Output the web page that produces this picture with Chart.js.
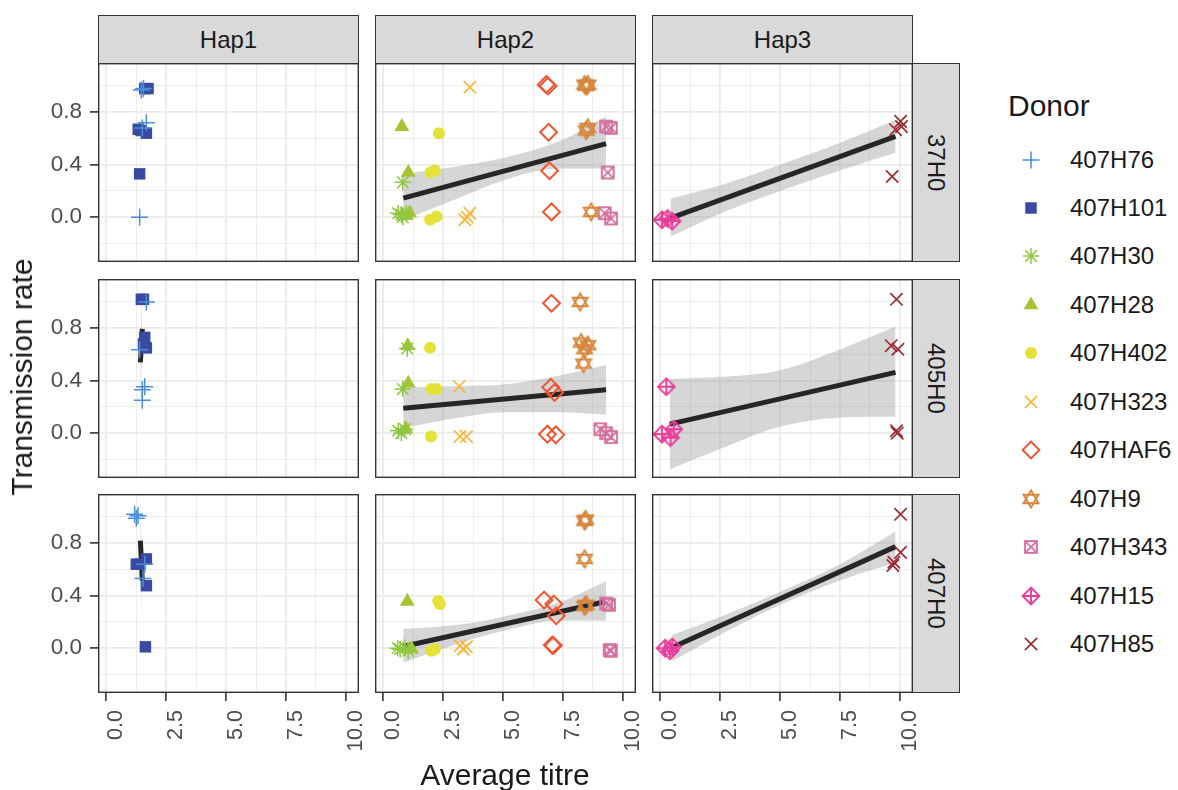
<!DOCTYPE html>
<html>
<head>
<meta charset="utf-8">
<script src="https://cdn.jsdelivr.net/npm/chart.js@4.4.1/dist/chart.umd.min.js"></script>
<style>
  html, body { margin: 0; padding: 0; background: #ffffff; }
  body { width: 1178px; height: 790px; position: relative; overflow: hidden;
         font-family: 'Liberation Sans', Arial, Helvetica, sans-serif; }
  .abs { position: absolute; }
  .strip { position: absolute; box-sizing: border-box; background: #d9d9d9;
           border: 1.4px solid #333333; color: #1a1a1a; font-size: 24px;
           display: flex; align-items: center; justify-content: center; }
  .strip.side span { writing-mode: vertical-rl; }
  .title { position: absolute; color: #1a1a1a; font-size: 30px; line-height: 30px; white-space: nowrap; }
  .key-label { position: absolute; color: #1a1a1a; font-size: 24px; line-height: 24px; white-space: nowrap; }
</style>
</head>
<body>
<script>
// ---- facets, donors, ticks ----
const strains = ['37H0', '405H0', '407H0'];          // facet rows
const haplotypes = ['Hap1', 'Hap2', 'Hap3'];         // facet columns
const donors = ['407H76', '407H101', '407H30', '407H28', '407H402', '407H323',
                '407HAF6', '407H9', '407H343', '407H15', '407H85'];
const xTickValues = [0, 2.5, 5, 7.5, 10];
const xTickLabels = ['0.0', '2.5', '5.0', '7.5', '10.0'];
const xMinorValues = [1.25, 3.75, 6.25, 8.75];
const yTickValues = [0, 0.4, 0.8];
const yTickLabels = ['0.0', '0.4', '0.8'];
const yMinorValues = [-0.2, 0.2, 0.6, 1.0];

// ---- observations per donor: [strain, haplotype, average titre, transmission rate] ----
const obs407H76 = [
  ['37H0','Hap1',1.46,0.97], ['37H0','Hap1',1.55,0.98], ['37H0','Hap1',1.67,0.72], ['37H0','Hap1',1.50,0.68], ['37H0','Hap1',1.39,0.00],
  ['405H0','Hap1',1.67,1.00], ['405H0','Hap1',1.39,0.635], ['405H0','Hap1',1.60,0.354], ['405H0','Hap1',1.50,0.33], ['405H0','Hap1',1.50,0.25],
  ['407H0','Hap1',1.18,1.02], ['407H0','Hap1',1.32,1.01], ['407H0','Hap1',1.25,0.99], ['407H0','Hap1',1.60,0.64], ['407H0','Hap1',1.53,0.53]
];
const obs407H101 = [
  ['37H0','Hap1',1.74,0.98], ['37H0','Hap1',1.60,0.98], ['37H0','Hap1',1.33,0.67], ['37H0','Hap1',1.45,0.66], ['37H0','Hap1',1.67,0.64], ['37H0','Hap1',1.39,0.33],
  ['405H0','Hap1',1.46,1.02], ['405H0','Hap1',1.55,1.02], ['405H0','Hap1',1.60,0.73], ['405H0','Hap1',1.67,0.65], ['405H0','Hap1',1.55,0.68],
  ['407H0','Hap1',1.25,0.64], ['407H0','Hap1',1.40,0.64], ['407H0','Hap1',1.67,0.68], ['407H0','Hap1',1.67,0.476], ['407H0','Hap1',1.63,0.01]
];
const obs407H30 = [
  ['37H0','Hap2',0.81,0.265], ['37H0','Hap2',0.62,0.03], ['37H0','Hap2',0.81,0.00], ['37H0','Hap2',0.95,0.03], ['37H0','Hap2',0.75,0.02],
  ['405H0','Hap2',1.00,0.645], ['405H0','Hap2',0.81,0.336], ['405H0','Hap2',0.62,0.018], ['405H0','Hap2',0.90,0.03], ['405H0','Hap2',0.75,0.00],
  ['407H0','Hap2',0.70,-0.008], ['407H0','Hap2',0.90,0.005], ['407H0','Hap2',1.04,-0.02], ['407H0','Hap2',0.60,0.00]
];
const obs407H28 = [
  ['37H0','Hap2',0.77,0.69], ['37H0','Hap2',1.04,0.34], ['37H0','Hap2',1.09,0.03], ['37H0','Hap2',0.95,0.01],
  ['405H0','Hap2',1.02,0.667], ['405H0','Hap2',1.04,0.38], ['405H0','Hap2',0.95,0.03],
  ['407H0','Hap2',1.00,0.356], ['407H0','Hap2',1.18,-0.008]
];
const obs407H402 = [
  ['37H0','Hap2',2.32,0.64], ['37H0','Hap2',1.97,0.34], ['37H0','Hap2',2.15,0.356], ['37H0','Hap2',1.95,-0.02], ['37H0','Hap2',2.22,0.005],
  ['405H0','Hap2',1.95,0.65], ['405H0','Hap2',2.01,0.336], ['405H0','Hap2',2.22,0.336], ['405H0','Hap2',1.99,-0.026],
  ['407H0','Hap2',2.29,0.36], ['407H0','Hap2',2.36,0.336], ['407H0','Hap2',2.01,-0.02], ['407H0','Hap2',2.15,-0.008]
];
const obs407H323 = [
  ['37H0','Hap2',3.61,0.99], ['37H0','Hap2',3.40,-0.02], ['37H0','Hap2',3.61,0.03], ['37H0','Hap2',3.50,0.00],
  ['405H0','Hap2',3.17,0.356], ['405H0','Hap2',3.20,-0.026], ['405H0','Hap2',3.47,-0.026],
  ['407H0','Hap2',3.20,0.018], ['407H0','Hap2',3.33,-0.008], ['407H0','Hap2',3.47,0.01]
];
const obs407HAF6 = [
  ['37H0','Hap2',6.80,1.01], ['37H0','Hap2',6.88,1.00], ['37H0','Hap2',6.90,0.647], ['37H0','Hap2',6.94,0.354], ['37H0','Hap2',7.02,0.04],
  ['405H0','Hap2',7.02,0.99], ['405H0','Hap2',6.99,0.35], ['405H0','Hap2',7.15,0.31], ['405H0','Hap2',6.85,-0.008], ['405H0','Hap2',7.20,-0.013],
  ['407H0','Hap2',6.71,0.367], ['407H0','Hap2',7.12,0.336], ['407H0','Hap2',7.22,0.247], ['407H0','Hap2',7.05,0.023], ['407H0','Hap2',7.10,0.02]
];
const obs407H9 = [
  ['37H0','Hap2',8.40,1.01], ['37H0','Hap2',8.55,1.01], ['37H0','Hap2',8.47,1.00], ['37H0','Hap2',8.54,0.68], ['37H0','Hap2',8.47,0.66], ['37H0','Hap2',8.68,0.04],
  ['405H0','Hap2',8.22,1.00], ['405H0','Hap2',8.26,0.69], ['405H0','Hap2',8.54,0.67], ['405H0','Hap2',8.40,0.64], ['405H0','Hap2',8.36,0.53],
  ['407H0','Hap2',8.45,0.98], ['407H0','Hap2',8.40,0.97], ['407H0','Hap2',8.40,0.68], ['407H0','Hap2',8.47,0.33], ['407H0','Hap2',8.40,0.32]
];
const obs407H343 = [
  ['37H0','Hap2',9.30,0.69], ['37H0','Hap2',9.50,0.68], ['37H0','Hap2',9.37,0.34], ['37H0','Hap2',9.24,0.03], ['37H0','Hap2',9.51,-0.01],
  ['405H0','Hap2',9.06,0.03], ['405H0','Hap2',9.30,0.00], ['405H0','Hap2',9.51,-0.03],
  ['407H0','Hap2',9.30,0.34], ['407H0','Hap2',9.42,0.33], ['407H0','Hap2',9.45,-0.015], ['407H0','Hap2',9.50,-0.02]
];
const obs407H15 = [
  ['37H0','Hap3',0.07,-0.02], ['37H0','Hap3',0.30,-0.01], ['37H0','Hap3',0.49,-0.03],
  ['405H0','Hap3',0.25,0.354], ['405H0','Hap3',0.07,-0.008], ['405H0','Hap3',0.42,-0.034], ['405H0','Hap3',0.56,0.03],
  ['407H0','Hap3',0.20,0.00], ['407H0','Hap3',0.40,-0.02], ['407H0','Hap3',0.50,0.01]
];
const obs407H85 = [
  ['37H0','Hap3',10.03,0.73], ['37H0','Hap3',9.82,0.667], ['37H0','Hap3',10.07,0.69], ['37H0','Hap3',9.68,0.31],
  ['405H0','Hap3',9.86,1.02], ['405H0','Hap3',9.64,0.667], ['405H0','Hap3',9.92,0.64], ['405H0','Hap3',9.86,0.018], ['405H0','Hap3',9.89,0.00],
  ['407H0','Hap3',10.03,1.02], ['407H0','Hap3',10.03,0.73], ['407H0','Hap3',9.75,0.655], ['407H0','Hap3',9.71,0.63]
];
const donorObs = [obs407H76, obs407H101, obs407H30, obs407H28, obs407H402, obs407H323,
                  obs407HAF6, obs407H9, obs407H343, obs407H15, obs407H85];

// ---- linear fit per facet: [strain, haplotype, x start, y start, x end, y end] ----
const fitLines = [
  ['37H0','Hap1',1.44,0.62,1.46,0.71],
  ['37H0','Hap2',0.83,0.145,9.30,0.56],
  ['37H0','Hap3',0.42,-0.008,9.82,0.616],
  ['405H0','Hap1',1.42,0.54,1.50,0.795],
  ['405H0','Hap2',0.83,0.19,9.30,0.33],
  ['405H0','Hap3',0.39,0.069,9.82,0.463],
  ['407H0','Hap1',1.42,0.82,1.50,0.515],
  ['407H0','Hap2',0.83,0.012,9.30,0.356],
  ['407H0','Hap3',0.49,0.005,9.82,0.774]
];

// ---- confidence band per facet: [strain, haplotype, titre, lower, upper] ----
const fitBands = [
  ['37H0','Hap1',1.43,0.26,0.66], ['37H0','Hap1',1.47,0.70,1.09],
  ['37H0','Hap2',0.83,-0.02,0.33], ['37H0','Hap2',3.2,0.15,0.39], ['37H0','Hap2',5.0,0.28,0.45], ['37H0','Hap2',7.36,0.37,0.58], ['37H0','Hap2',9.3,0.37,0.77],
  ['37H0','Hap3',0.42,-0.15,0.14], ['37H0','Hap3',2.8,0.05,0.26], ['37H0','Hap3',5.0,0.20,0.40], ['37H0','Hap3',7.4,0.35,0.56], ['37H0','Hap3',9.82,0.49,0.74],
  ['405H0','Hap1',1.42,0.19,0.62], ['405H0','Hap1',1.50,0.70,1.09],
  ['405H0','Hap2',0.83,0.04,0.35], ['405H0','Hap2',3.2,0.12,0.36], ['405H0','Hap2',5.0,0.16,0.37], ['405H0','Hap2',7.36,0.16,0.44], ['405H0','Hap2',9.3,0.14,0.52],
  ['405H0','Hap3',0.39,-0.275,0.413], ['405H0','Hap3',2.65,-0.11,0.43], ['405H0','Hap3',5.01,0.05,0.48], ['405H0','Hap3',7.52,0.12,0.64], ['405H0','Hap3',9.82,0.125,0.813],
  ['407H0','Hap1',1.42,0.72,1.13], ['407H0','Hap1',1.50,0.21,0.60],
  ['407H0','Hap2',0.83,-0.11,0.145], ['407H0','Hap2',3.2,0.04,0.18], ['407H0','Hap2',5.0,0.13,0.24], ['407H0','Hap2',7.36,0.21,0.35], ['407H0','Hap2',9.3,0.21,0.51],
  ['407H0','Hap3',0.49,-0.10,0.10], ['407H0','Hap3',2.8,0.13,0.26], ['407H0','Hap3',5.0,0.33,0.43], ['407H0','Hap3',7.4,0.51,0.63], ['407H0','Hap3',9.82,0.65,0.89]
];

// ---- layout and styling ----
const FONT = "'Liberation Sans', Arial, Helvetica, sans-serif";
const PANEL_LEFT = [98, 375, 652];
const PANEL_TOP = [63, 279, 494];
const PANEL_W = 261, PANEL_H = 199;
const Y_AXIS_W = 98, X_AXIS_H = 72, LABEL_OVERHANG = 16;
const X_RANGE = [-0.35, 10.55];
const Y_RANGE = [-0.342, 1.175];
const donorColours = ['#4a8fd8', '#3a4aa3', '#8fc742', '#a6c535', '#e4e237', '#fbb535',
                      '#f0552f', '#d6863c', '#d4719e', '#ea3d9b', '#9a2b30'];

// Open shapes with no built-in Chart.js point style
function markerCanvas(colour, paint) {
  const c = document.createElement('canvas');
  c.width = 22; c.height = 22;
  const g = c.getContext('2d');
  g.strokeStyle = colour; g.lineWidth = 1.9; g.lineJoin = 'miter';
  g.translate(11, 11);
  paint(g);
  return c;
}
const paintHexagram = g => {
  const r = 8.6;
  [1, -1].forEach(s => {
    g.beginPath();
    g.moveTo(0, -s * r);
    g.lineTo(r * 0.866, s * r * 0.5);
    g.lineTo(-r * 0.866, s * r * 0.5);
    g.closePath(); g.stroke();
  });
};
const paintBoxCross = g => {
  const h = 5.9;
  g.strokeRect(-h, -h, 2 * h, 2 * h);
  g.beginPath(); g.moveTo(-h, -h); g.lineTo(h, h); g.moveTo(h, -h); g.lineTo(-h, h); g.stroke();
};
const paintDiamondPlus = g => {
  const r = 8.4;
  g.beginPath(); g.moveTo(0, -r); g.lineTo(r, 0); g.lineTo(0, r); g.lineTo(-r, 0); g.closePath(); g.stroke();
  g.beginPath(); g.moveTo(0, -r); g.lineTo(0, r); g.moveTo(-r, 0); g.lineTo(r, 0); g.stroke();
};

const donorMarkers = [
  { style: 'cross',    radius: 8.5, width: 1.5, filled: false },
  { style: 'rect',     radius: 8.1, width: 0,   filled: true },
  { style: 'star',     radius: 8.2, width: 1.5, filled: false },
  { style: 'triangle', radius: 8.6, width: 0,   filled: true },
  { style: 'circle',   radius: 6.0, width: 0,   filled: true },
  { style: 'crossRot', radius: 8.7, width: 1.6, filled: false },
  { style: 'rectRot',  radius: 8.4, width: 2.0, filled: false },
  { style: markerCanvas(donorColours[7], paintHexagram),    radius: 8, width: 0, filled: false },
  { style: markerCanvas(donorColours[8], paintBoxCross),    radius: 8, width: 0, filled: false },
  { style: markerCanvas(donorColours[9], paintDiamondPlus), radius: 8, width: 0, filled: false },
  { style: 'crossRot', radius: 8.7, width: 1.7, filled: false }
];

const near = (list, v) => list.findIndex(t => Math.abs(t - v) < 1e-6);

// Panel frame drawn above everything, like a ggplot panel border
const panelBorder = {
  id: 'panelBorder',
  afterDraw(chart) {
    const { ctx, chartArea: a } = chart;
    ctx.save();
    ctx.strokeStyle = '#333333';
    ctx.lineWidth = 1.4;
    ctx.strokeRect(a.left + 0.7, a.top + 0.7, a.right - a.left - 1.4, a.bottom - a.top - 1.4);
    ctx.restore();
  }
};

Chart.defaults.font.family = FONT;

function addDiv(cls, text, css) {
  const d = document.createElement('div');
  d.className = cls;
  if (text !== null) d.innerHTML = text;
  Object.assign(d.style, css);
  document.body.appendChild(d);
  return d;
}

// ---- facet strips ----
haplotypes.forEach((h, c) => addDiv('strip', h, {
  left: PANEL_LEFT[c] + 'px', top: '15px', width: PANEL_W + 'px', height: '49px'
}));
strains.forEach((s, r) => addDiv('strip side', '<span>' + s + '</span>', {
  left: (PANEL_LEFT[2] + PANEL_W - 1) + 'px', top: PANEL_TOP[r] + 'px', width: '48px', height: PANEL_H + 'px'
}));

// ---- panels ----
strains.forEach((strain, r) => haplotypes.forEach((hap, c) => {
  const yW = c === 0 ? Y_AXIS_W : 0;
  const xH = r === 2 ? X_AXIS_H : 0;
  const padR = r === 2 ? LABEL_OVERHANG : 0;   // room for the rotated "10.0" label
  const box = addDiv('abs', null, {
    left: (PANEL_LEFT[c] - yW) + 'px', top: PANEL_TOP[r] + 'px',
    width: (PANEL_W + yW + padR) + 'px', height: (PANEL_H + xH) + 'px'
  });
  const canvas = document.createElement('canvas');
  box.appendChild(canvas);

  const datasets = [];
  donors.forEach((name, k) => {
    const pts = donorObs[k].filter(o => o[0] === strain && o[1] === hap).map(o => ({ x: o[2], y: o[3] }));
    if (!pts.length) return;
    const m = donorMarkers[k];
    datasets.push({
      type: 'scatter', label: name, data: pts, order: 0,
      pointStyle: m.style, pointRadius: m.radius, pointHoverRadius: m.radius,
      pointBorderWidth: m.width, pointHoverBorderWidth: m.width,
      borderColor: donorColours[k], backgroundColor: m.filled ? donorColours[k] : 'rgba(0,0,0,0)'
    });
  });

  const band = fitBands.filter(b => b[0] === strain && b[1] === hap);
  datasets.push({
    type: 'line', label: 'band upper', data: band.map(b => ({ x: b[2], y: b[4] })),
    fill: '+1', backgroundColor: 'rgba(153,153,153,0.4)', borderWidth: 0, pointRadius: 0,
    cubicInterpolationMode: 'monotone', order: 2
  });
  datasets.push({
    type: 'line', label: 'band lower', data: band.map(b => ({ x: b[2], y: b[3] })),
    fill: false, borderWidth: 0, pointRadius: 0, cubicInterpolationMode: 'monotone', order: 2
  });
  const fit = fitLines.find(f => f[0] === strain && f[1] === hap);
  datasets.push({
    type: 'line', label: 'fit', data: [{ x: fit[2], y: fit[3] }, { x: fit[4], y: fit[5] }],
    borderColor: '#262626', borderWidth: 5, borderCapStyle: 'butt', pointRadius: 0, fill: false, order: 1
  });

  new Chart(canvas, {
    type: 'scatter',
    data: { datasets },
    plugins: [panelBorder],
    options: {
      responsive: true, maintainAspectRatio: false, animation: false, events: [],
      layout: { padding: { left: 0, top: 0, bottom: 0, right: padR }, autoPadding: false },
      plugins: { legend: { display: false }, tooltip: { enabled: false } },
      scales: {
        x: {
          type: 'linear', position: 'bottom', min: X_RANGE[0], max: X_RANGE[1],
          afterBuildTicks: s => { s.ticks = xTickValues.concat(xMinorValues).sort((a, b) => a - b).map(v => ({ value: v })); },
          afterFit: s => { s.height = xH; s.paddingLeft = 0; s.paddingRight = 0; s.paddingTop = 0; s.paddingBottom = 0; },
          border: { display: false },
          grid: {
            color: '#ebebeb',
            lineWidth: ctx => near(xTickValues, ctx.tick.value) >= 0 ? 1.8 : 0.9,
            drawTicks: r === 2, tickLength: 8, tickWidth: 1.6,
            tickColor: ctx => near(xTickValues, ctx.tick.value) >= 0 ? '#333333' : 'rgba(0,0,0,0)'
          },
          ticks: {
            display: r === 2, autoSkip: false, minRotation: 90, maxRotation: 90,
            padding: 9, labelOffset: 10, color: '#4d4d4d', font: { size: 21.5 },
            callback: v => { const i = near(xTickValues, v); return i >= 0 ? xTickLabels[i] : ''; }
          }
        },
        y: {
          type: 'linear', position: 'left', min: Y_RANGE[0], max: Y_RANGE[1],
          afterBuildTicks: s => { s.ticks = yTickValues.concat(yMinorValues).sort((a, b) => a - b).map(v => ({ value: v })); },
          afterFit: s => { s.width = yW; s.paddingLeft = 0; s.paddingRight = 0; s.paddingTop = 0; s.paddingBottom = 0; },
          border: { display: false },
          grid: {
            color: '#ebebeb',
            lineWidth: ctx => near(yTickValues, ctx.tick.value) >= 0 ? 1.8 : 0.9,
            drawTicks: c === 0, tickLength: 8, tickWidth: 1.6,
            tickColor: ctx => near(yTickValues, ctx.tick.value) >= 0 ? '#333333' : 'rgba(0,0,0,0)'
          },
          ticks: {
            display: c === 0, autoSkip: false, padding: 8, color: '#4d4d4d', font: { size: 22.5 },
            callback: v => { const i = near(yTickValues, v); return i >= 0 ? yTickLabels[i] : ''; }
          }
        }
      }
    }
  });
}));

// ---- axis titles ----
addDiv('title', 'Average titre', { left: '505px', top: '760px', transform: 'translateX(-50%)' });
addDiv('title', 'Transmission rate', {
  left: '22px', top: '377px', transform: 'translate(-50%, -50%) rotate(-90deg)'
});

// ---- legend ----
addDiv('title', 'Donor', { left: '1008px', top: '91px' });
function drawKeySymbol(ctx, k, x, y) {
  const m = donorMarkers[k];
  ctx.fillStyle = m.filled ? donorColours[k] : 'rgba(0,0,0,0)';
  ctx.strokeStyle = donorColours[k];
  ctx.lineWidth = m.width;
  const opts = { pointStyle: m.style, radius: m.radius, rotation: 0, borderWidth: m.width };
  if (Chart.helpers && Chart.helpers.drawPoint) {
    Chart.helpers.drawPoint(ctx, opts, x, y);
  } else if (typeof m.style === 'object') {
    ctx.drawImage(m.style, x - m.style.width / 2, y - m.style.height / 2);
  }
}
donors.forEach((name, k) => {
  const cy = 159.5 + 48.45 * k;
  const holder = addDiv('abs', null, { left: '1016px', top: (cy - 15) + 'px', width: '30px', height: '30px' });
  const cv = document.createElement('canvas');
  cv.width = 30; cv.height = 30;
  holder.appendChild(cv);
  drawKeySymbol(cv.getContext('2d'), k, 15, 15);
  addDiv('key-label', name, { left: '1070px', top: (cy - 12) + 'px' });
});
</script>
</body>
</html>
